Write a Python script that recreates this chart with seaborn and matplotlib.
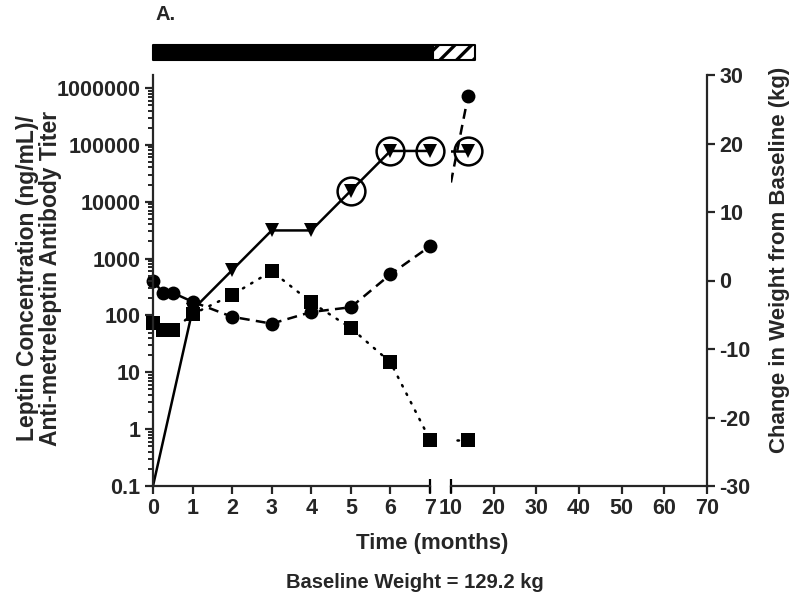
import matplotlib
matplotlib.use("Agg")
import matplotlib.pyplot as plt
import seaborn as sns
from matplotlib.patches import Rectangle
from matplotlib.ticker import FixedLocator, LogLocator, FuncFormatter, NullFormatter

# Data
months = [0, 0.25, 0.5, 1, 2, 3, 4, 5, 6, 7, 14]
leptin = [75, 55, 55, 105, 230, 600, 170, 60, 15, 0.65, 0.65]          # ng/mL (squares)
weight = [0, -1.8, -1.8, -3.1, -5.3, -6.3, -4.6, -3.9, 0.9, 5.0, 26.9]  # kg change (circles)
titer_months = [0, 1, 2, 3, 4, 5, 6, 7, 14]
titer = [0.1, 125, 625, 3125, 3125, 15625, 78125, 78125, 78125]       # triangles
neutralizing = [False, False, False, False, False, True, True, True, True]

# treatment bar: (start month, end month, face, hatch)
treatment = [(0, 7.08, "black", ""), (7.08, 15.6, "white", "//")]

left_ticks = [0.1, 1, 10, 100, 1000, 10000, 100000, 1000000]
right_ticks = [-30, -20, -10, 0, 10, 20, 30]
x1_ticks = [0, 1, 2, 3, 4, 5, 6, 7]
x2_ticks = [10, 20, 30, 40, 50, 60, 70]

sns.set_style("ticks")
plt.rcParams["font.family"] = ["Liberation Sans", "DejaVu Sans"]
plt.rcParams["font.weight"] = "bold"
plt.rcParams["axes.unicode_minus"] = False
plt.rcParams["hatch.linewidth"] = 2.4
plt.rcParams["axes.linewidth"] = 1.6

fig = plt.figure(figsize=(8, 6.08), dpi=100)
H = 608.0
bottom, top = (H - 486) / H, (H - 75) / H
ax1 = fig.add_axes([153 / 800, bottom, (430 - 153) / 800, top - bottom])
ax2 = fig.add_axes([451 / 800, bottom, (707 - 451) / 800, top - bottom], sharey=ax1)
ax1w = ax1.twinx()
ax2w = ax2.twinx()

ax1.set_yscale("log")
ax1.set_ylim(0.1, 1.693e6)
ax1.set_xlim(0, 7)
ax2.set_xlim(10, 70)
for a in (ax1w, ax2w):
    a.set_ylim(-30, 30)

# keep squares/triangles above the weight circles
for a, w in ((ax1, ax1w), (ax2, ax2w)):
    a.set_zorder(w.get_zorder() + 1)
    a.patch.set_visible(False)

t_lo = [t for t in months if t <= 7]
n_lo = len(t_lo)
tt_lo = [t for t in titer_months if t <= 7]
nt_lo = len(tt_lo)

mk = dict(color="black", markeredgewidth=0, linewidth=1.8)
dotted = (0, (0.6, 3.2))
dashed = (0, (4, 2.5))

# --- first segment (0-7 months)
sns.lineplot(x=t_lo, y=leptin[:n_lo], ax=ax1, marker="s", markersize=10,
             linestyle=dotted, dash_capstyle="round", clip_on=False, **mk)
sns.lineplot(x=tt_lo, y=titer[:nt_lo], ax=ax1, marker="v", markersize=10,
             markevery=list(range(1, nt_lo)), clip_on=False, **mk)
sns.lineplot(x=t_lo, y=weight[:n_lo], ax=ax1w, marker="o", markersize=10,
             linestyle=dashed, clip_on=False, **mk)

# --- second segment (10-70 months): lines run in from month 7
t_hi = months[n_lo - 1:]
tt_hi = titer_months[nt_lo - 1:]
sns.lineplot(x=t_hi, y=leptin[n_lo - 1:], ax=ax2, linestyle=dotted,
             dash_capstyle="round", color="black", linewidth=1.8)
sns.lineplot(x=tt_hi, y=titer[nt_lo - 1:], ax=ax2, color="black", linewidth=1.8)
sns.lineplot(x=t_hi, y=weight[n_lo - 1:], ax=ax2w, linestyle=dashed,
             color="black", linewidth=1.8)
ax2.plot(months[n_lo:], leptin[n_lo:], "s", ms=10, mew=0, color="black", clip_on=False)
ax2.plot(titer_months[nt_lo:], titer[nt_lo:], "v", ms=10, mew=0, color="black", clip_on=False)
ax2w.plot(months[n_lo:], weight[n_lo:], "o", ms=10, mew=0, color="black", clip_on=False)

# rings around neutralizing titers
for a, sel in ((ax1, lambda t: t <= 7), (ax2, lambda t: t >= 10)):
    xs = [t for t, n in zip(titer_months, neutralizing) if n and sel(t)]
    ys = [v for t, v, n in zip(titer_months, titer, neutralizing) if n and sel(t)]
    a.plot(xs, ys, "o", ms=20, mfc="none", mec="black", mew=1.8, clip_on=False)

# --- axes styling
for a in (ax1, ax2, ax1w, ax2w):
    for s in a.spines.values():
        s.set_visible(False)
ax1.spines["left"].set_visible(True)
ax1.spines["bottom"].set_visible(True)
ax2.spines["bottom"].set_visible(True)
ax2w.spines["right"].set_visible(True)

ax1.yaxis.set_major_locator(FixedLocator(left_ticks))
ax1.yaxis.set_minor_locator(LogLocator(base=10, subs=range(2, 10), numticks=20))
ax1.yaxis.set_minor_formatter(NullFormatter())
ax1.yaxis.set_major_formatter(FuncFormatter(lambda v, _: "0.1" if v < 1 else f"{int(round(v))}"))
ax1.set_xticks(x1_ticks)
ax2.set_xticks(x2_ticks)
ax2w.set_yticks(right_ticks)

tick_kw = dict(direction="out", width=1.6, labelsize=15.5, pad=3)
ax1.tick_params(axis="both", which="major", length=6, **tick_kw)
ax1.tick_params(axis="y", which="minor", length=3.5, width=1.4)
ax2.tick_params(axis="x", which="major", length=6, **tick_kw)
ax2.tick_params(axis="y", which="both", left=False, labelleft=False, right=False)
ax1w.tick_params(axis="y", which="both", right=False, labelright=False)
ax2w.tick_params(axis="y", which="major", length=6, **tick_kw)
for a in (ax1, ax2, ax2w):
    for lab in a.get_xticklabels() + a.get_yticklabels():
        lab.set_fontweight("bold")

# break marks
ax1.plot([1], [0], marker="|", ms=10, mew=1.6, color="black",
         transform=ax1.transAxes, clip_on=False)
ax2.plot([0], [0], marker="|", ms=10, mew=1.6, color="black",
         transform=ax2.transAxes, clip_on=False)


# treatment bar above the plot
def month_to_figx(t):
    a = ax1 if t <= 8.5 else ax2
    disp = a.transData.transform((t, 1))[0]
    return fig.transFigure.inverted().transform((disp, 0))[0]


bar_y, bar_h = (H - 60) / H, 15 / H
for t0, t1, face, hatch in treatment:
    x0, x1 = month_to_figx(t0), month_to_figx(t1)
    fig.patches.append(Rectangle((x0, bar_y), x1 - x0, bar_h, transform=fig.transFigure,
                                 facecolor=face, edgecolor="black", hatch=hatch,
                                 linewidth=1.5, joinstyle="round"))

# labels
fig.text(39 / 800, (H - 278) / H,
         "Leptin Concentration (ng/mL)/\nAnti-metreleptin Antibody Titer",
         rotation=90, ha="center", va="center", multialignment="center",
         fontsize=16.5, fontweight="bold", linespacing=1.0)
fig.text(780 / 800, (H - 260) / H, "Change in Weight from Baseline (kg)",
         rotation=90, ha="center", va="center", fontsize=16, fontweight="bold")
fig.text(432 / 800, (H - 543) / H, "Time (months)", ha="center", va="center",
         fontsize=16, fontweight="bold")
fig.text(415 / 800, (H - 583) / H, "Baseline Weight = 129.2 kg", ha="center",
         va="center", fontsize=14.5, fontweight="bold")
fig.text(155 / 800, (H - 15) / H, "A.", ha="left", va="center",
         fontsize=14.5, fontweight="bold")

fig.savefig("out.png", dpi=100)
